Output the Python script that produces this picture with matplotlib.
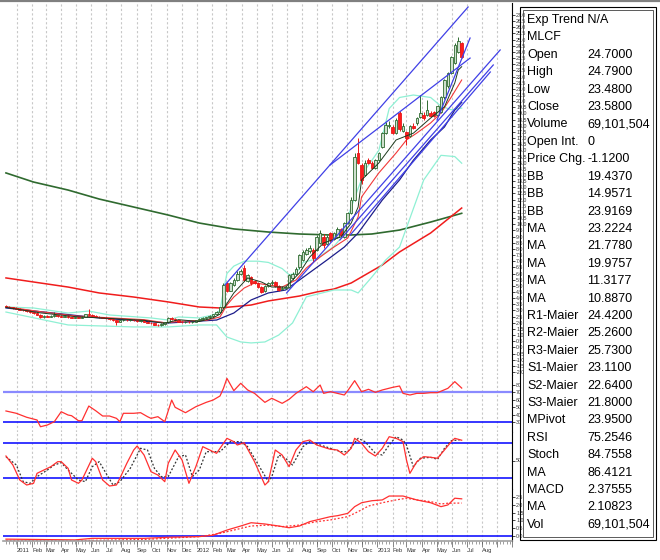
import numpy as np
import pandas as pd
import matplotlib
matplotlib.use('Agg')
import matplotlib.pyplot as plt
import matplotlib.dates as mdates
from matplotlib.patches import Rectangle
from matplotlib.lines import Line2D

plt.rcParams['font.family'] = ['Liberation Sans', 'DejaVu Sans']

# ---- weekly MLCF candles, first bar = week of 10 Dec 2010 ----
first_week = '2010-12-10'
opens = [3.35, 3.30, 3.25, 3.20, 3.15, 3.05, 3.00, 2.95, 2.85, 2.80,
         2.65, 2.45, 2.55, 2.50, 2.55, 2.60, 2.55, 2.50, 2.55, 2.45,
         2.40, 2.45, 2.40, 2.50, 2.70, 2.65, 2.55, 2.50, 2.45, 2.40,
         2.35, 2.30, 2.20, 2.10, 2.20, 2.25, 2.20, 2.25, 2.20, 2.15,
         2.20, 2.10, 2.00, 1.95, 1.85, 1.80, 1.90, 2.05, 2.40, 2.30,
         2.20, 2.10, 2.05, 2.10, 2.05, 2.10, 2.20, 2.30, 2.40, 2.45,
         2.55, 2.70, 2.90, 3.25, 5.20, 4.60, 5.10, 5.50, 6.00, 6.45,
         5.40, 5.70, 5.40, 5.20, 4.90, 4.60, 5.00, 5.20, 5.30, 4.95,
         4.75, 4.85, 4.90, 5.60, 6.00, 6.50, 7.10, 7.60, 7.80, 7.90,
         7.90, 8.50, 9.00, 8.40, 9.30, 8.80, 9.00, 9.60, 9.00, 10.10,
         10.90, 12.00, 15.80, 14.80, 14.00, 15.20, 15.00, 14.60, 15.20, 16.30,
         17.40, 18.00, 17.90, 17.40, 19.00, 17.60, 17.50, 17.20, 18.00, 18.20,
         18.70, 18.90, 18.90, 19.00, 19.10, 18.90, 19.10, 20.30, 21.20, 22.30,
         23.10, 24.00, 24.70]
highs = [3.45, 3.35, 3.30, 3.25, 3.20, 3.10, 3.05, 3.00, 2.90, 2.85,
         2.70, 2.60, 2.60, 2.60, 2.85, 2.65, 2.60, 2.60, 2.60, 2.50,
         2.50, 2.50, 2.55, 2.75, 3.15, 2.70, 2.60, 2.55, 2.50, 2.45,
         2.40, 2.35, 2.25, 2.25, 2.30, 2.30, 2.30, 2.30, 2.25, 2.25,
         2.25, 2.15, 2.05, 2.00, 1.90, 1.95, 2.10, 2.45, 2.45, 2.35,
         2.25, 2.15, 2.15, 2.15, 2.15, 2.25, 2.35, 2.45, 2.50, 2.60,
         2.75, 2.95, 3.30, 5.20, 5.30, 5.30, 5.60, 6.20, 6.40, 6.70,
         6.00, 5.80, 5.50, 5.30, 5.00, 5.10, 5.30, 5.45, 5.40, 5.05,
         4.95, 5.00, 6.00, 6.10, 6.50, 7.60, 7.90, 8.10, 8.30, 8.10,
         9.10, 9.50, 9.20, 9.10, 9.40, 9.40, 9.80, 9.70, 10.20, 11.00,
         12.20, 15.80, 17.00, 15.00, 15.20, 15.40, 15.10, 15.30, 15.90, 17.50,
         18.30, 18.40, 18.10, 18.60, 19.20, 18.20, 17.60, 18.10, 18.20, 18.70,
         20.50, 19.10, 20.10, 19.20, 19.20, 19.70, 20.40, 21.80, 22.40, 23.70,
         24.70, 25.20, 24.79]
lows = [3.25, 3.22, 3.15, 3.10, 3.00, 2.95, 2.90, 2.80, 2.75, 2.60,
        2.40, 2.40, 2.45, 2.45, 2.50, 2.50, 2.45, 2.45, 2.40, 2.35,
        2.35, 2.35, 2.35, 2.45, 2.60, 2.50, 2.45, 2.40, 2.35, 2.30,
        2.25, 2.15, 1.85, 2.05, 2.15, 2.15, 2.15, 2.15, 2.10, 2.10,
        2.05, 1.95, 1.90, 1.80, 1.75, 1.75, 1.85, 2.00, 2.25, 2.15,
        2.05, 2.00, 2.00, 2.00, 2.00, 2.05, 2.15, 2.25, 2.35, 2.40,
        2.50, 2.65, 2.85, 3.20, 4.50, 4.55, 5.00, 5.40, 5.90, 5.40,
        5.30, 5.10, 5.15, 4.80, 4.40, 4.50, 4.90, 5.10, 4.90, 4.60,
        4.65, 4.75, 4.85, 5.50, 5.90, 6.40, 7.00, 7.50, 7.70, 6.90,
        7.80, 8.40, 8.10, 8.30, 8.60, 8.70, 8.90, 9.00, 8.90, 10.00,
        10.80, 11.90, 14.90, 13.30, 13.90, 14.90, 14.50, 14.50, 15.10, 16.20,
        17.30, 17.80, 17.30, 17.30, 17.60, 17.50, 16.40, 17.10, 17.70, 18.10,
        18.60, 18.50, 18.80, 18.70, 18.70, 18.80, 19.00, 20.20, 21.10, 22.20,
        23.00, 23.90, 23.48]
closes = [3.30, 3.25, 3.20, 3.15, 3.05, 3.00, 2.95, 2.85, 2.80, 2.65,
          2.45, 2.55, 2.50, 2.55, 2.60, 2.55, 2.50, 2.55, 2.45, 2.40,
          2.45, 2.40, 2.50, 2.70, 2.65, 2.55, 2.50, 2.45, 2.40, 2.35,
          2.30, 2.20, 2.10, 2.20, 2.25, 2.20, 2.25, 2.20, 2.15, 2.20,
          2.10, 2.00, 1.95, 1.85, 1.80, 1.90, 2.05, 2.40, 2.30, 2.20,
          2.10, 2.05, 2.10, 2.05, 2.10, 2.20, 2.30, 2.40, 2.45, 2.55,
          2.70, 2.90, 3.25, 5.10, 4.60, 5.20, 5.50, 6.00, 6.20, 5.50,
          5.90, 5.20, 5.25, 4.90, 4.50, 5.00, 5.20, 5.35, 5.00, 4.70,
          4.85, 4.90, 5.90, 6.00, 6.40, 7.50, 7.75, 7.90, 8.10, 7.30,
          9.00, 9.30, 8.30, 9.00, 8.70, 9.30, 9.60, 9.10, 10.10, 10.90,
          12.00, 15.50, 15.00, 13.60, 15.00, 15.00, 14.60, 15.20, 15.80, 17.40,
          18.10, 18.10, 17.40, 18.50, 17.70, 18.00, 17.00, 18.00, 17.80, 18.60,
          19.00, 18.60, 19.30, 18.80, 18.80, 19.60, 20.30, 21.70, 22.30, 23.60,
          24.60, 24.90, 23.58]

# ---- overlay lines: (week index, value) ----
ma_long_green_wk = [0, 8, 18, 27, 37, 47, 56, 66, 76, 85, 94, 100, 106, 114, 123, 132]
ma_long_green = [14.17, 13.43, 12.78, 12.05, 11.40, 10.75, 10.10, 9.62, 9.37, 9.21,
                 9.13, 9.13, 9.21, 9.53, 10.18, 10.89]
ma_long_red_wk = [0, 8, 18, 27, 37, 47, 56, 62, 71, 76, 85, 90, 95, 100, 104, 109, 114, 123, 132]
ma_long_red = [5.64, 5.31, 4.90, 4.42, 4.09, 3.69, 3.28, 3.20, 3.44, 3.77,
               4.17, 4.50, 4.74, 5.23, 5.88, 6.69, 7.75, 9.29, 11.32]
ma_short_red_wk = [0, 10, 20, 30, 40, 46, 52, 58, 62, 64, 66, 69, 72, 76, 80, 84, 87, 91,
                   95, 99, 102, 103, 108, 113, 116, 119, 123, 126, 129, 132]
ma_short_red = [3.30, 2.90, 2.55, 2.40, 2.25, 2.00, 2.15, 2.20, 2.47, 3.44, 4.09, 4.82,
                5.23, 5.07, 4.90, 5.47, 6.45, 7.34, 8.15, 8.88, 10.59, 12.22, 14.17,
                15.79, 16.85, 17.41, 18.23, 19.04, 20.34, 21.72]
ma_fast_wk = [0, 10, 20, 30, 40, 46, 50, 56, 60, 62, 66, 70, 74, 77, 81, 85, 88, 92,
              97, 100, 102, 103, 108, 113, 118, 123, 127, 130, 131, 132]
ma_fast = [3.25, 2.80, 2.50, 2.35, 2.20, 1.95, 2.25, 2.10, 2.40, 2.70, 4.42, 5.64,
           5.31, 4.90, 4.90, 6.04, 7.34, 8.48, 8.97, 10.10, 11.40, 13.60, 14.98,
           16.85, 17.40, 18.63, 19.53, 21.48, 22.53, 22.80]
ma_navy_wk = [0, 27, 47, 61, 66, 71, 76, 81, 85, 93, 98, 102, 109, 114, 118, 123, 127, 130, 132]
ma_navy = [3.20, 2.39, 1.98, 2.22, 2.79, 3.85, 4.42, 4.66, 5.47, 7.10, 8.15, 9.29,
           11.97, 13.60, 15.20, 16.85, 17.90, 19.28, 19.90]
bb_upper_wk = [0, 8, 18, 24, 30, 42, 47, 50, 56, 60, 62, 63, 64, 66, 69, 73, 76, 80,
               82, 84, 86, 90, 95, 98, 99, 100, 104, 108, 111, 114, 118, 123, 126, 129, 132]
bb_upper = [3.28, 3.20, 2.79, 2.95, 2.63, 2.39, 2.22, 2.47, 2.39, 2.63, 3.00, 4.60,
            6.00, 6.60, 7.00, 7.00, 6.90, 6.40, 5.90, 6.00, 6.90, 7.20, 8.20, 9.20,
            10.50, 11.40, 14.40, 16.00, 19.40, 20.30, 20.50, 20.30, 19.60, 19.30, 19.44]
bb_lower_wk = [0, 18, 37, 47, 56, 61, 64, 68, 71, 75, 79, 83, 87, 95, 100, 102, 106,
               110, 114, 121, 126, 130, 132]
bb_lower = [2.87, 1.82, 1.66, 1.66, 1.82, 1.82, 0.84, 0.44, 0.36, 0.44, 1.00, 1.98,
            4.10, 4.66, 4.66, 4.42, 5.72, 7.10, 8.15, 13.60, 15.60, 15.50, 14.96]

# ---- trend lines (start date, start price, end date, end price) ----
trend_lines = [
    ('2012-02-27', 5.07, '2013-07-04', 27.65),
    ('2012-09-27', 14.81, '2013-07-08', 23.50),
    ('2012-07-01', 4.42, '2013-09-07', 24.16),
    ('2012-10-17', 8.72, '2013-08-24', 22.94),
    ('2012-11-07', 9.13, '2013-08-18', 22.37),
    ('2013-05-02', 18.47, '2013-07-08', 25.13),
]

# ---- indicators ----
rsi_wk = [0, 3, 6, 9, 10, 12, 14, 16, 18, 19, 21, 22, 24, 26, 28, 30, 32, 33, 34, 37,
          39, 41, 42, 44, 46, 48, 49, 52, 55, 58, 60, 62, 63, 64, 66, 68, 70, 72, 75,
          77, 80, 82, 84, 87, 89, 91, 92, 94, 96, 98, 99, 101, 103, 105, 107, 109,
          112, 114, 115, 117, 119, 121, 123, 125, 128, 130, 132]
rsi = [44.7, 41.6, 36.3, 32.7, 23.7, 26.0, 30.4, 43.7, 39.3, 38.4, 31.7, 31.7, 51.3,
       45.0, 38.0, 38.0, 34.9, 30.4, 41.6, 41.6, 42.4, 37.1, 34.9, 37.1, 30.4, 59.3,
       49.6, 42.4, 50.4, 56.2, 59.3, 64.7, 74.9, 88.2, 71.8, 81.6, 72.7, 68.2, 56.2,
       61.6, 54.9, 60.2, 68.2, 77.1, 70.4, 79.3, 68.2, 70.4, 68.2, 66.0, 71.8, 85.1,
       70.4, 73.6, 69.6, 72.7, 76.2, 78.0, 68.2, 66.0, 68.2, 68.2, 69.1, 69.1, 74.9,
       83.8, 75.25]
stoch_k_wk = [0, 2, 4, 6, 8, 9, 11, 13, 15, 16, 18, 19, 21, 22, 25, 26, 28, 30, 32, 33,
              35, 37, 38, 40, 42, 44, 46, 47, 49, 51, 53, 55, 57, 59, 61, 64, 66, 67,
              69, 72, 75, 76, 78, 80, 82, 84, 86, 88, 90, 93, 94, 96, 98, 100, 101,
              103, 105, 107, 109, 111, 113, 115, 116, 117, 119, 121, 123, 125, 127,
              129, 130, 132]
stoch_k = [57.7, 42.3, 16.6, 8.0, 10.9, 28.0, 33.7, 39.4, 48.0, 48.0, 36.6, 16.6,
           10.9, 16.6, 53.8, 48.0, 16.6, 6.3, 8.0, 19.5, 45.1, 68.0, 74.9, 59.4, 30.8,
           25.1, 13.7, 45.1, 68.0, 50.9, 10.9, 39.4, 73.7, 68.0, 62.3, 88.0, 82.3, 76.6,
           80.5, 48.0, 8.0, 13.7, 68.0, 59.4, 39.4, 68.0, 82.3, 85.1, 76.6, 70.9, 69.2,
           68.0, 59.4, 70.9, 88.0, 79.4, 65.1, 57.7, 70.9, 90.8, 88.0, 82.3, 50.9, 28.0,
           48.0, 56.6, 55.5, 53.8, 68.0, 82.3, 88.0, 84.76]
stoch_d_wk = [0, 3, 5, 7, 9, 12, 14, 16, 18, 21, 23, 25, 27, 29, 31, 33, 36, 39, 41,
              43, 45, 47, 50, 52, 54, 56, 58, 60, 62, 65, 68, 70, 74, 76, 77, 79, 81,
              83, 86, 88, 91, 94, 97, 99, 102, 104, 107, 109, 111, 113, 115, 116, 118,
              120, 123, 125, 127, 129, 131, 132]
stoch_d = [56.5, 42.3, 13.7, 10.9, 22.3, 33.7, 42.3, 46.3, 33.7, 16.6, 13.7, 39.4,
           48.0, 28.0, 8.0, 13.7, 36.6, 70.9, 68.0, 36.6, 22.3, 22.3, 56.5, 59.4, 22.3,
           33.7, 65.1, 65.1, 65.1, 82.3, 82.3, 73.7, 33.7, 13.7, 22.3, 59.4, 53.8, 42.3,
           73.7, 82.3, 76.6, 70.9, 65.1, 65.1, 88.0, 82.3, 62.3, 59.4, 76.6, 90.8, 85.1,
           76.6, 39.4, 53.8, 55.5, 52.0, 70.9, 84.0, 85.1, 86.41]
macd_wk = [0, 20, 25, 40, 47, 56, 60, 64, 68, 71, 75, 79, 82, 85, 88, 94, 96, 99, 101,
           103, 106, 109, 111, 115, 119, 123, 126, 128, 130, 132]
macd = [-0.20, -0.25, -0.15, -0.15, -0.08, -0.04, 0.05, 0.38, 0.64, 0.85, 0.77, 0.64,
        0.53, 0.64, 0.92, 1.24, 1.30, 1.45, 1.88, 2.13, 2.26, 2.31, 2.56, 2.56, 2.31,
        2.13, 1.88, 1.99, 2.42, 2.38]
macd_sig_wk = [0, 20, 40, 56, 62, 66, 71, 76, 80, 85, 90, 94, 99, 102, 105, 109, 113,
               116, 119, 123, 126, 128, 132]
macd_sig = [-0.28, -0.30, -0.22, -0.04, 0.17, 0.38, 0.64, 0.70, 0.60, 0.70, 0.92, 1.03,
            1.24, 1.56, 1.92, 2.13, 2.31, 2.42, 2.31, 2.20, 2.05, 2.10, 2.11]

# ---- data window ----
info_labels = ['Exp Trend N/A', 'MLCF', 'Open', 'High', 'Low', 'Close', 'Volume',
               'Open Int.', 'Price Chg.', 'BB', 'BB', 'BB', 'MA', 'MA', 'MA', 'MA', 'MA',
               'R1-Maier', 'R2-Maier', 'R3-Maier', 'S1-Maier', 'S2-Maier', 'S3-Maier',
               'MPivot', 'RSI', 'Stoch', 'MA', 'MACD', 'MA', 'Vol']
info_values = ['', '', '24.7000', '24.7900', '23.4800', '23.5800', '69,101,504', '0',
               '-1.1200', '19.4370', '14.9571', '23.9169', '23.2224', '21.7780',
               '19.9757', '11.3177', '10.8870', '24.4200', '25.2600', '25.7300',
               '23.1100', '22.6400', '21.8000', '23.9500', '75.2546', '84.7558',
               '86.4121', '2.37555', '2.10823', '69,101,504']

dates = pd.date_range(first_week, periods=len(closes), freq='7D')


def wk(idx):
    return dates[np.array(idx)]


W, H = 660, 560
fig = plt.figure(figsize=(6.6, 5.6), dpi=100)


def add_panel(top, bottom):
    return fig.add_axes([3 / W, 1 - bottom / H, 509 / W, (bottom - top) / H])


ax_p = add_panel(3, 375)
ax_r = add_panel(375, 432)
ax_s = add_panel(432, 489)
ax_m = add_panel(489, 541)
axes = [ax_p, ax_r, ax_s, ax_m]

xmin, xmax = pd.Timestamp('2010-12-04'), pd.Timestamp('2013-10-01')
for ax in axes:
    ax.set_xlim(xmin, xmax)
    ax.yaxis.tick_right()
    for s in ['left', 'top', 'bottom']:
        ax.spines[s].set_visible(False)
    ax.spines['right'].set_color('black')
    ax.spines['right'].set_linewidth(0.8)
    ax.xaxis.set_major_locator(mdates.MonthLocator())
    ax.xaxis.set_minor_locator(mdates.WeekdayLocator(byweekday=mdates.FR))
    ax.grid(axis='x', which='major', color='#c8c8c8', linestyle=(0, (2, 2)), linewidth=0.8)
    ax.tick_params(axis='y', labelsize=3.8, length=2, pad=1, width=0.5, labelcolor='#333333')
    ax.tick_params(axis='x', which='both', bottom=False, labelbottom=False)
    ax.set_facecolor('white')

# price panel
ax_p.set_ylim(-2.245, 27.975)
ax_p.set_yticks(np.arange(-2.0, 27.01, 0.5))
ax_p.yaxis.set_major_formatter(plt.FormatStrFormatter('%.1f'))

ax_p.plot(wk(ma_long_green_wk), ma_long_green, color='#2f6a2f', lw=1.2)
ax_p.plot(wk(ma_long_red_wk), ma_long_red, color='#f01c1c', lw=1.1)
ax_p.plot(wk(bb_upper_wk), bb_upper, color='#8ff0d4', lw=0.9)
ax_p.plot(wk(bb_lower_wk), bb_lower, color='#8ff0d4', lw=0.9)
ax_p.plot(wk(ma_navy_wk), ma_navy, color='#1c1c8a', lw=0.9)
ax_p.plot(wk(ma_short_red_wk), ma_short_red, color='#f23838', lw=0.8)

o = np.array(opens)
c = np.array(closes)
hi = np.array(highs)
lo = np.array(lows)
up = c >= o
body_w = 5.2
ax_p.vlines(dates[up], lo[up], hi[up], color='#2e6a30', lw=0.7, zorder=3)
ax_p.vlines(dates[~up], lo[~up], hi[~up], color='#e81818', lw=0.7, zorder=3)
ax_p.bar(dates[up], np.maximum(c[up] - o[up], 0.04), bottom=o[up], width=body_w,
         color='#cfe0cf', edgecolor='#2e6a30', linewidth=0.6, zorder=4)
ax_p.bar(dates[~up], np.maximum(o[~up] - c[~up], 0.04), bottom=c[~up], width=body_w,
         color='#ff1c1c', edgecolor='#e81818', linewidth=0.6, zorder=4)

ax_p.plot(wk(ma_fast_wk), ma_fast, color='#1e3a1e', lw=0.7, zorder=5)

for d0, p0, d1, p1 in trend_lines:
    ax_p.plot([pd.Timestamp(d0), pd.Timestamp(d1)], [p0, p1], color='#4040e6', lw=0.9, zorder=6)

# RSI panel
ax_r.set_ylim(16.67, 92.67)
ax_r.set_yticks([30, 40, 50, 60, 70, 80])
ax_r.axhline(70, color='#8a8aff', lw=1.6)
ax_r.axhline(30, color='#1414ff', lw=1.2)
ax_r.plot(wk(rsi_wk), rsi, color='#ff3030', lw=0.9)

# Stochastic panel
ax_s.set_ylim(1.14, 98.86)
ax_s.set_yticks([50])
ax_s.axhline(80, color='#1414ff', lw=1.2)
ax_s.axhline(20, color='#1414ff', lw=1.2)
ax_s.plot(wk(stoch_d_wk), stoch_d, color='#333333', lw=0.9, linestyle=(0, (1.5, 1.5)))
ax_s.plot(wk(stoch_k_wk), stoch_k, color='#ff3030', lw=0.9)

# MACD panel
ax_m.set_ylim(-0.32, 3.01)
ax_m.set_yticks(np.arange(0, 2.51, 0.5))
ax_m.yaxis.set_major_formatter(plt.FormatStrFormatter('%.1f'))
ax_m.axhline(0, color='#1414ff', lw=1.2)
ax_m.plot(wk(macd_sig_wk), macd_sig, color='#ff3030', lw=0.9, linestyle=(0, (1.5, 1.5)))
ax_m.plot(wk(macd_wk), macd, color='#ff3030', lw=0.9)

ax_m.spines['bottom'].set_visible(True)
ax_m.spines['bottom'].set_color('#a0a0a0')
ax_m.spines['bottom'].set_linewidth(1.2)

last_label = pd.Timestamp('2013-08-15')


def month_fmt(x, pos=None):
    d = mdates.num2date(x).replace(tzinfo=None)
    if d > last_label:
        return ''
    return str(d.year) if d.month == 1 else d.strftime('%b')


ax_m.xaxis.set_major_formatter(plt.FuncFormatter(month_fmt))
ax_m.tick_params(axis='x', which='major', bottom=True, labelbottom=True, length=4,
                 width=0.5, labelsize=4.2, pad=1, color='#555555', labelcolor='#333333')
ax_m.tick_params(axis='x', which='minor', bottom=True, length=2, width=0.4, color='#555555')
for lbl in ax_m.get_xticklabels():
    lbl.set_ha('left')

# window borders
fig.add_artist(Line2D([0, 1], [1 - 0.8 / H, 1 - 0.8 / H], transform=fig.transFigure,
                      color='#808080', lw=1.6))
fig.add_artist(Rectangle((520 / W, 1 - 540 / H), 136 / W, 533 / H, transform=fig.transFigure,
                         fill=False, edgecolor='black', lw=0.8))
fig.add_artist(Rectangle((523 / W, 1 - 537 / H), 130 / W, 527 / H, transform=fig.transFigure,
                         fill=False, edgecolor='#404040', lw=0.6))

for k, (lab, val) in enumerate(zip(info_labels, info_values)):
    yy = 1 - (20 + 17.41 * k) / H
    fig.text(527 / W, yy, lab, fontsize=9, va='center', ha='left', color='black')
    if val:
        fig.text(587 / W, yy, val, fontsize=9, va='center', ha='left', color='black')

fig.savefig('out.png', dpi=100)
